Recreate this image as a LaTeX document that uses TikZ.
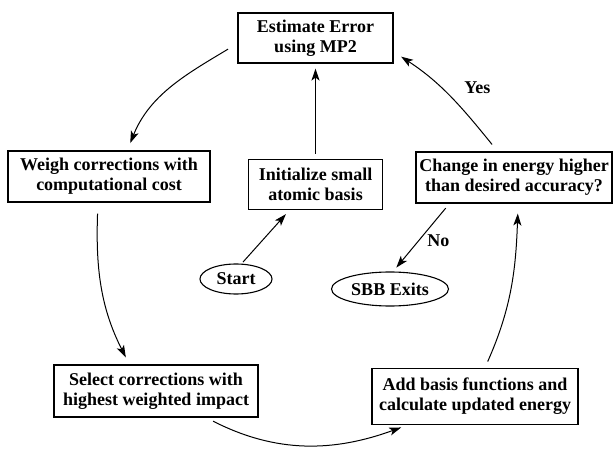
\documentclass[tikz,border=0pt]{standalone}
\usepackage{fontspec}
\setmainfont{Liberation Serif}
\usetikzlibrary{arrows.meta,positioning,shapes.geometric}
\tikzset{
  cyc/box/.style={draw, line width=1.1pt, align=center, minimum height=50pt, inner xsep=3pt, inner ysep=4pt, font=\bfseries\fontsize{18}{20}\selectfont},
  cyc/term/.style={draw, ellipse, line width=1.1pt, inner sep=1pt, font=\bfseries\fontsize{18}{20}\selectfont},
  cyc/arr/.style={line width=1pt, -{Stealth[length=12pt,width=8pt,inset=3pt]}},
  cyc/lbl/.style={font=\bfseries\fontsize{18}{20}\selectfont}
}

\begin{document}
\begin{tikzpicture}[x=1pt, y=1pt]
\useasboundingbox (0,0) rectangle (613,453);
\node (est) [cyc/box, minimum width=155pt] at (315.5,415) {Estimate Error\\using MP2};
\node (init) [cyc/box, minimum width=134pt, below=95pt of est] {Initialize small\\atomic basis};
\node (weigh) [cyc/box, minimum width=202pt, minimum height=51pt] at (109,276.5) {Weigh corrections with\\computational cost};
\node (change) [cyc/box, minimum width=196pt, minimum height=51pt] at (514,275.5) {Change in energy higher\\than desired accuracy?};
\node (select) [cyc/box, minimum width=204pt, minimum height=52pt] at (156,62) {Select corrections with\\highest weighted impact};
\node (add) [cyc/box, minimum width=206pt, minimum height=56pt] at (475,56.5) {Add basis functions and\\calculate updated energy};
\node (start) [cyc/term, minimum width=72pt, minimum height=30pt] at (236,174) {Start};
\node (exit) [cyc/term, minimum width=117pt, minimum height=34pt] at (390,164) {SBB Exits};

% the loop
\draw[cyc/arr, shorten <=11pt, shorten >=8pt] (est.184) to[out=211, in=68] (weigh.55);
\draw[cyc/arr, shorten <=11pt, shorten >=8pt] (weigh.247) to[out=268, in=117] (select.135);
\draw[cyc/arr, shorten <=8pt, shorten >=7pt] (select.332) to[out=333, in=200] (add.203);
\draw[cyc/arr, shorten <=7pt, shorten >=10pt] (add.71) to[out=66, in=268] (change.279);
\draw[cyc/arr, shorten <=9pt, shorten >=9pt] (change.122) to[out=129, in=327]
  node[cyc/lbl, pos=.6, right=20pt] {Yes} (est.350);

% entry and exit
\draw[cyc/arr, shorten <=5pt, shorten >=5pt] (init) -- (est);
\draw[cyc/arr, shorten <=2pt, shorten >=6pt] (start.70) -- (init.225);
\draw[cyc/arr, shorten <=6pt, shorten >=5pt] (change.202) -- node[cyc/lbl, pos=.55, right=5pt] {No} (exit.80);
\end{tikzpicture}
\end{document}
